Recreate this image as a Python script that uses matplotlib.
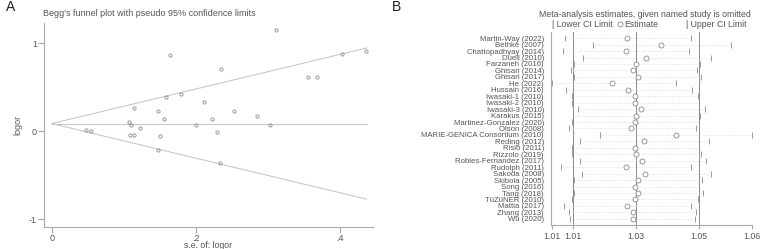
import numpy as np
import matplotlib
matplotlib.use("Agg")
import matplotlib.pyplot as plt
from matplotlib.lines import Line2D
from matplotlib.ticker import FormatStrFormatter

plt.rcParams['font.family'] = ['Liberation Sans', 'DejaVu Sans']

# ---- panel A data (Begg's funnel plot) ----
se = [0.165, 0.235, 0.159, 0.180, 0.114, 0.212, 0.148, 0.156, 0.223, 0.253,
      0.108, 0.110, 0.123, 0.200, 0.047, 0.312, 0.404, 0.437, 0.356, 0.368,
      0.285, 0.303, 0.055, 0.109, 0.115, 0.151, 0.229, 0.148, 0.234]
logor = [0.867, 0.708, 0.390, 0.416, 0.261, 0.330, 0.234, 0.140, 0.143, 0.230,
         0.102, 0.068, 0.041, 0.068, 0.018, 1.151, 0.875, 0.909, 0.620, 0.620,
         0.177, 0.068, 0.003, -0.042, -0.042, -0.053, -0.004, -0.216, -0.364]
pooled = 0.086
se_max = 0.4375

# ---- panel B data (influence analysis) ----
studies = ["Martin-Way (2022)", "Bethke (2007)", "Chattopadhyay (2014)", "Duell (2010)",
           "Farzaneh (2016)", "Ghisari (2014)", "Ghisari (2017)", "He (2022)",
           "Hussain (2016)", "Iwasaki-1 (2010)", "Iwasaki-2 (2010)", "Iwasaki-3 (2010)",
           "Karakus (2015)", "Martinez-Gonzalez (2020)", "Olson (2008)",
           "MARIE-GENICA Consortium (2010)", "Reding (2012)", "Risio (2011)",
           "Rizzolo (2019)", "Robles-Fernandez (2017)", "Rudolph (2011)", "Sakoda (2008)",
           "Skibola (2005)", "Song (2016)", "Tang (2018)", "TüZüNER (2010)",
           "Mattia (2017)", "Zhang (2013)", "Wu (2020)"]
lower = [1.0098, 1.0178, 1.0095, 1.0151, 1.0126, 1.0115, 1.0126, 1.0062,
         1.0101, 1.0118, 1.0120, 1.0137, 1.0122, 1.0120, 1.0110,
         1.0199, 1.0143, 1.0120, 1.0119, 1.0142, 1.0089, 1.0146,
         1.0126, 1.0121, 1.0125, 1.0119, 1.0097, 1.0112, 1.0114]
estimate = [1.0274, 1.0370, 1.0271, 1.0329, 1.0301, 1.0292, 1.0304, 1.0233,
            1.0277, 1.0296, 1.0296, 1.0315, 1.0299, 1.0296, 1.0287,
            1.0412, 1.0323, 1.0296, 1.0299, 1.0318, 1.0271, 1.0326,
            1.0304, 1.0296, 1.0306, 1.0296, 1.0275, 1.0290, 1.0290]
upper = [1.0454, 1.0567, 1.0450, 1.0512, 1.0481, 1.0472, 1.0484, 1.0414,
         1.0459, 1.0476, 1.0477, 1.0495, 1.0480, 1.0477, 1.0468,
         1.0627, 1.0507, 1.0477, 1.0484, 1.0497, 1.0454, 1.0512,
         1.0487, 1.0477, 1.0490, 1.0476, 1.0455, 1.0469, 1.0467]
overall = [1.0123, 1.0300, 1.0478]

txt = '#555555'

fig = plt.figure(figsize=(7.63, 2.49), dpi=100)

# ================= Panel A =================
axA = fig.add_axes([0.0577, 0.0896, 0.4312, 0.818])
se_line = np.array([0, se_max])
axA.plot(se_line, [pooled, pooled], color='#c8c8c8', lw=0.8)
axA.plot(se_line, pooled + 1.96 * se_line, color='#c8c8c8', lw=0.8)
axA.plot(se_line, pooled - 1.96 * se_line, color='#c8c8c8', lw=0.8)
axA.plot(se, logor, 'o', ms=2.3, mfc='none', mec='#8a8a8a', mew=0.6)
axA.set_xlim(-0.0107, 0.4465)
axA.set_ylim(-1.084, 1.227)
axA.set_xticks([0, 0.2, 0.4])
axA.set_xticklabels(["0", ".2", ".4"])
axA.set_yticks([-1, 0, 1])
axA.set_yticklabels(["-1", "0", "1"])
for s in ['top', 'right']:
    axA.spines[s].set_visible(False)
for s in ['left', 'bottom']:
    axA.spines[s].set_color('#aaaaaa')
    axA.spines[s].set_linewidth(0.8)
axA.tick_params(colors='#aaaaaa', labelcolor=txt, labelsize=6.5, length=4, width=0.8, pad=1)
axA.set_xlabel("s.e. of: logor", fontsize=6.3, color=txt, labelpad=-1)
axA.set_ylabel("logor", fontsize=6.5, color=txt, labelpad=5)
fig.text(0.0563, 0.945, "Begg's funnel plot with pseudo 95% confidence limits",
         fontsize=6.5, color=txt, va='center', ha='left')
fig.text(0.008, 0.97, "A", fontsize=10, color='#222222', va='center', ha='left')

# ================= Panel B =================
axB = fig.add_axes([0.7222, 0.0952, 0.2638, 0.7775])
rows = np.arange(1, len(studies) + 1)
for v in overall:
    axB.axvline(v, color='#8a8a8a', lw=0.7)
axB.hlines(rows, lower, upper, color='#cfcfcf', lw=0.5, linestyles=':')
axB.plot(lower, rows, '|', ms=4, mew=0.6, color='#8a8a8a')
axB.plot(upper, rows, '|', ms=4, mew=0.6, color='#8a8a8a')
axB.plot(estimate, rows, 'o', ms=3.6, mfc='white', mec='#8a8a8a', mew=0.6)
axB.set_ylim(30, 0)
axB.set_xlim(min(lower) - 0.0002, max(upper) + 0.0001)
axB.set_yticks(rows)
axB.set_yticklabels(studies)
axB.set_xticks([min(lower)] + overall + [max(upper)])
axB.xaxis.set_major_formatter(FormatStrFormatter('%.2f'))
for s in ['top', 'right']:
    axB.spines[s].set_visible(False)
for s in ['left', 'bottom']:
    axB.spines[s].set_color('#aaaaaa')
    axB.spines[s].set_linewidth(0.8)
axB.tick_params(axis='y', length=0, pad=5, labelsize=5.6, labelcolor=txt)
axB.tick_params(axis='x', colors='#aaaaaa', labelcolor=txt, labelsize=6.3, length=3, width=0.8, pad=2)

fig.text(0.8447, 0.943, "Meta-analysis estimates, given named study is omitted",
         fontsize=6.3, color=txt, va='center', ha='center')
fig.text(0.7235, 0.903, "| Lower CI Limit", fontsize=6.3, color=txt, va='center', ha='left')
fig.add_artist(Line2D([0.8125], [0.903], marker='o', ms=3.6, mfc='white', mec='#8a8a8a',
                      mew=0.6, transform=fig.transFigure))
fig.text(0.8175, 0.903, "Estimate", fontsize=6.3, color=txt, va='center', ha='left')
fig.text(0.8985, 0.903, "| Upper CI Limit", fontsize=6.3, color=txt, va='center', ha='left')
fig.text(0.513, 0.97, "B", fontsize=10, color='#222222', va='center', ha='left')

fig.savefig("out.png", dpi=100)
